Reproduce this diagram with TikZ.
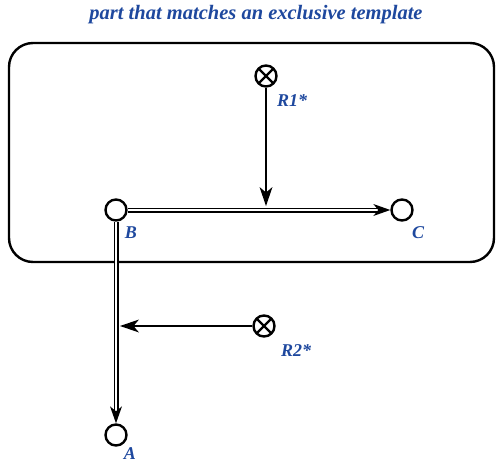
\documentclass[tikz,border=0pt]{standalone}
\usepackage{fontspec}
\setmainfont{Liberation Serif}
\definecolor{tplblue}{RGB}{30,72,158}
\tikzset{
  st/.style={circle, draw, line width=2.4pt, minimum size=21pt, inner sep=0pt},
  rx/.style={st, path picture={
      \draw[line width=2.4pt] (path picture bounding box.north west) -- (path picture bounding box.south east)
        (path picture bounding box.north east) -- (path picture bounding box.south west);}},
  lbl/.style={text=tplblue, font=\bfseries\itshape\fontsize{18}{20}\selectfont},
  trans/.style={double, double distance=2.2pt, line width=1.4pt, shorten >=10pt},
  infl/.style={line width=2.2pt, shorten >=6pt},
  head/.style={fill=black, line join=miter},
}
\begin{document}
\begin{tikzpicture}[x=1pt, y=-1pt]
  \useasboundingbox (0,0) rectangle (498,463);

  \node[lbl, font=\bfseries\itshape\fontsize{20.5}{22}\selectfont] (title) at (256,15) {part that matches an exclusive template};
  \draw[line width=2.4pt, rounded corners=24pt] (9,43) rectangle (494,262);

  \node[st] (B) at (116,210) {};
  \node[st] (C) at (402,210) {};
  \node[st] (A) at (116,435) {};
  \node[rx] (R1) at (266,76) {};
  \node[rx] (R2) at (264,326) {};

  \node[lbl] (Bl) at (131,233) {B};
  \node[lbl] (Cl) at (418,233) {C};
  \node[lbl] (Al) at (130,454) {A};
  \node[lbl] (R1l) at (292,101) {R1*};
  \node[lbl] (R2l) at (296,351) {R2*};

  % double transitions, heads filled by hand
  \draw[trans] (B) -- (C);
  \fill[head] (C.west) -- ++(-17,-6) -- ++(5,6) -- ++(-5,6) -- cycle;
  \draw[trans] (B) -- (A);
  \fill[head] (A.north) -- ++(-6,-17) -- ++(6,5) -- ++(6,-5) -- cycle;

  \coordinate (m1) at (266,206);
  \coordinate (m2) at (120,326);
  \draw[infl] (R1) -- (m1);
  \fill[head] (m1) -- ++(-6.5,-19) -- ++(6.5,5.5) -- ++(6.5,-5.5) -- cycle;
  \draw[infl] (R2) -- (m2);
  \fill[head] (m2) -- ++(19,-6.5) -- ++(-5.5,6.5) -- ++(5.5,6.5) -- cycle;
\end{tikzpicture}
\end{document}
